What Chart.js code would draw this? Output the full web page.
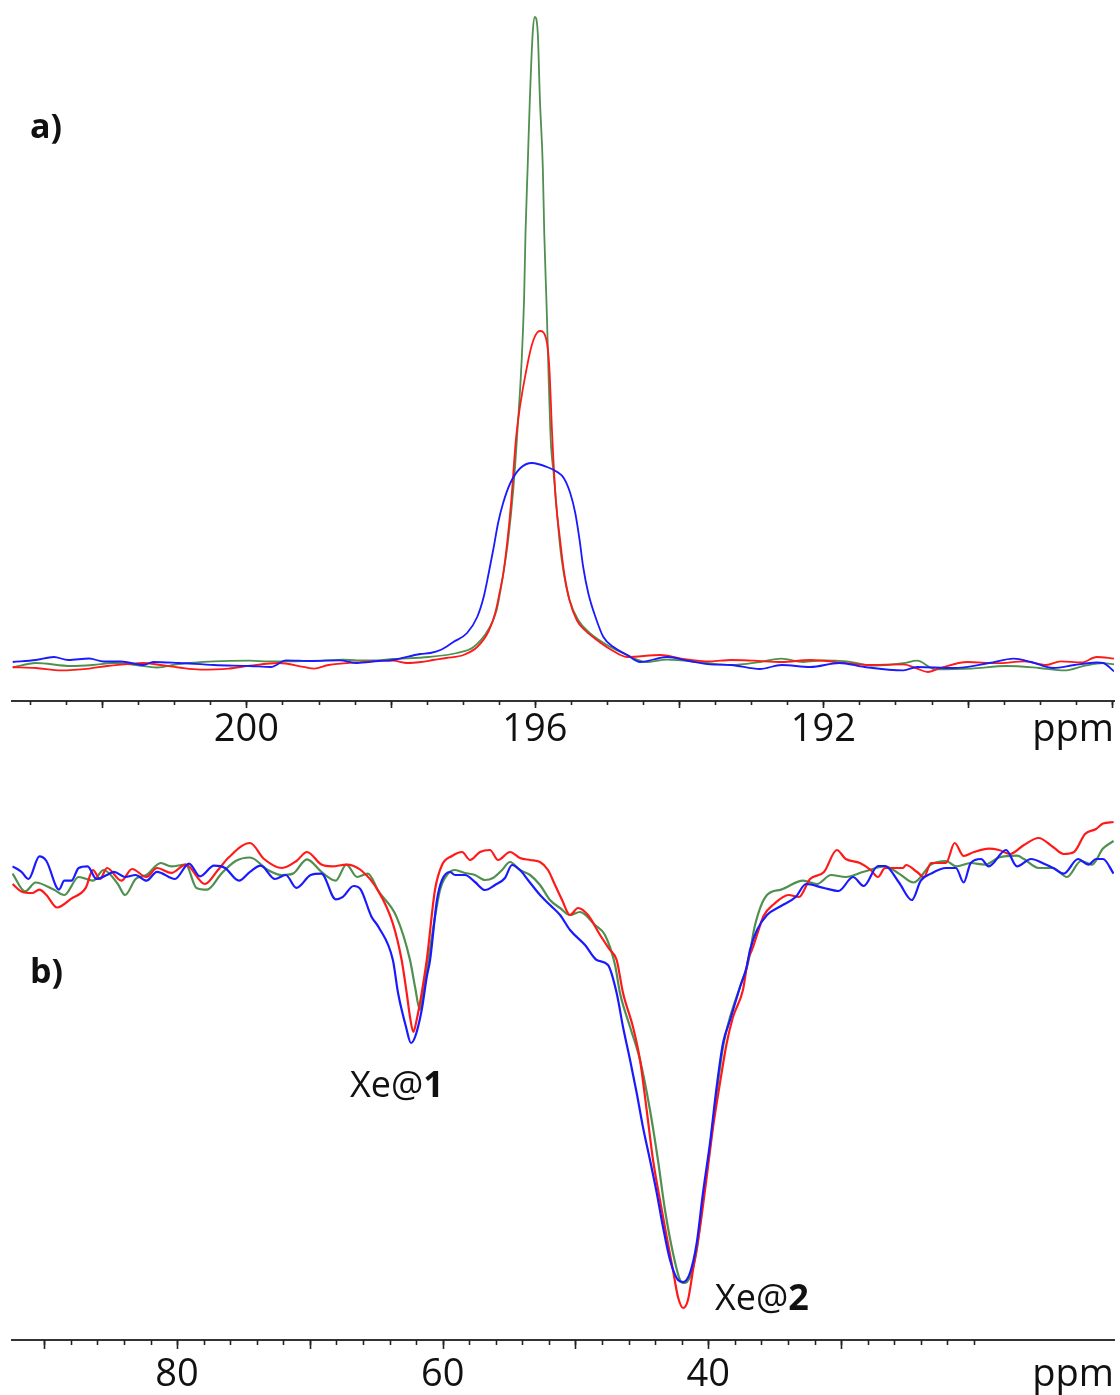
<!DOCTYPE html>
<html>
<head>
<meta charset="utf-8">
<script src="https://cdn.jsdelivr.net/npm/chart.js@4.4.1/dist/chart.umd.min.js"></script>
<style>
  html, body { margin: 0; padding: 0; background: #fff; }
  canvas { display: block; }
</style>
</head>
<body>
<canvas id="specA" width="1120" height="760"></canvas>
<canvas id="specB" width="1120" height="635"></canvas>
<script>
// --- 129Xe NMR overlay: a) gas region, b) cage region ---
// each series: [ppm, intensity (a.u.)]

// a) 203 .. 188 ppm
const aBlue = [[203.24,3],[202.92,5],[202.67,8],[202.47,5],[202.18,6.5],[201.98,3.5],[201.74,3.5],[201.43,0],[201.29,3],[200.94,2],[200.45,0],[199.95,-1],[199.66,-2],[199.45,4.6],[199.10,4],[198.71,4.6],[198.47,2],[198.17,4],[197.97,5],[197.59,11],[197.45,12],[197.31,15],[197.13,23],[196.94,32],[196.80,48],[196.71,68],[196.64,92],[196.57,118],[196.51,142],[196.44,162],[196.34,182],[196.20,197],[196.04,202],[195.83,198],[195.69,193],[195.60,187],[195.51,172],[195.44,152],[195.38,125],[195.33,98],[195.26,72],[195.16,48],[195.05,28],[194.91,18],[194.72,10],[194.54,3],[194.17,8],[193.86,4],[193.57,0.7],[193.28,0],[192.88,-4],[192.58,0],[192.18,-2],[191.78,2],[191.43,-2],[190.89,-5.4],[190.70,-2],[190.20,-3],[189.70,2],[189.36,6.4],[189.12,3],[188.81,-3],[188.52,0],[188.21,2.5],[188.12,2],[187.97,-6.4]];
const aRed = [[203.24,-2],[202.92,-3],[202.57,-5.4],[202.18,-3.6],[201.93,-1],[201.63,1],[201.43,2],[201.19,0],[200.94,-2.5],[200.64,-4.6],[200.25,-3.6],[199.95,-0.7],[199.55,2],[199.21,-1.8],[199.06,-3.6],[198.86,0],[198.47,2.5],[197.97,4.3],[197.77,2],[197.58,3],[197.41,5],[197.23,7],[196.99,10],[196.80,18],[196.64,34],[196.55,52],[196.49,72],[196.43,95],[196.33,162],[196.26,228],[196.11,298],[196.02,325],[195.93,334],[195.84,325],[195.80,298],[195.76,230],[195.71,165],[195.65,125],[195.60,95],[195.52,65],[195.42,45],[195.31,35],[195.16,26],[194.96,16],[194.72,8],[194.26,10],[193.97,6.4],[193.57,3.6],[193.28,5],[192.97,4.3],[192.58,3],[192.18,5],[191.68,1.8],[191.39,0],[190.89,0.7],[190.70,-3.6],[190.55,-7],[190.40,-3.6],[190.00,3],[189.60,1.8],[189.21,3.6],[188.91,0],[188.71,3.6],[188.42,2.5],[188.21,8],[187.97,6.4]];
const aGreen = [[203.24,-2.5],[202.92,2],[202.43,-1],[202.13,0],[201.84,2],[201.53,0],[201.24,-2.5],[200.94,1],[200.45,3.6],[199.95,4.3],[199.70,3.6],[199.45,3.6],[198.96,4.3],[198.66,5.4],[198.47,4.6],[198.22,4.6],[197.97,6],[197.47,8],[197.08,12],[196.85,18],[196.64,36],[196.53,55],[196.43,95],[196.37,125],[196.30,175],[196.25,225],[196.15,365],[196.13,432],[196.10,498],[196.07,565],[196.03,632],[196.00,648],[195.96,632],[195.93,565],[195.89,498],[195.87,432],[195.84,365],[195.78,225],[195.74,192],[195.70,158],[195.65,118],[195.60,92],[195.52,65],[195.40,45],[195.24,32],[195.00,20],[194.72,10],[194.46,3],[194.17,5.4],[193.67,2.5],[193.28,0],[192.88,3],[192.58,6.4],[192.28,3],[191.99,4.6],[191.68,3.6],[191.29,-0.7],[190.89,1.8],[190.70,4.3],[190.45,-4.3],[189.95,-3.6],[189.46,-1],[189.01,-3],[188.66,-5.4],[188.37,-0.7],[188.12,1.8],[187.97,0.7]];

// b) 92 .. 9 ppm
const bBlue = [[92.39,-1.4],[91.72,-6.8],[91.18,-14],[90.37,8.6],[89.84,4],[88.89,-24.6],[88.49,-15.7],[87.96,-15.7],[87.41,-3],[86.74,-1.4],[86.07,-14],[85.28,-10],[84.75,-6.8],[83.92,-12],[83.12,-10],[82.31,-15.7],[81.51,-6.8],[80.16,-14],[79.10,1.4],[78.27,-11.4],[77.22,-0.7],[76.39,-3],[75.34,-15.7],[74.51,-6.8],[73.70,-0.7],[72.63,-14],[71.82,-10],[71.01,-22.9],[69.94,-10],[69.13,-8.6],[68.06,-34.3],[67.51,-31.8],[66.71,-21],[66.17,-24.6],[65.37,-51.4],[64.83,-62],[63.75,-95],[63.36,-128],[62.76,-162],[62.39,-178],[62.08,-172],[61.58,-145],[61.20,-112],[60.95,-95],[60.43,-35],[60.05,-15],[59.45,-7],[59.07,-10],[58.32,-10],[57.57,-17],[56.81,-25],[56.06,-20],[55.31,-13],[54.78,0],[54.18,-5],[53.58,-15],[52.67,-30],[51.92,-40],[51.16,-50],[50.41,-65],[49.28,-80],[48.40,-95],[47.55,-100],[46.90,-128],[46.42,-162],[45.89,-195],[45.39,-228],[44.92,-262],[44.39,-295],[43.88,-328],[43.41,-362],[42.88,-395],[42.28,-415],[41.90,-417],[41.38,-408],[40.87,-378],[40.40,-328],[39.87,-278],[39.37,-222],[38.89,-178],[38.36,-155],[37.61,-122],[37.11,-102],[36.86,-85],[36.33,-65],[35.58,-50],[34.52,-41],[33.42,-32],[32.64,-19],[31.29,-23],[30.19,-26],[29.10,-12],[28.30,-21],[27.22,-1],[26.69,-1],[25.64,-17.5],[24.67,-35],[24.00,-15.7],[23.23,-8.6],[22.10,-3],[21.35,-3],[20.77,-17.5],[20.24,2],[19.46,6],[18.89,-1.4],[17.58,15],[16.75,-1.4],[15.70,6],[14.59,0.4],[14.04,-3],[13.24,-8.6],[12.16,6],[11.36,0.4],[10.80,6],[10.28,6],[9.48,-8.6]];
const bRed = [[92.39,-19],[91.72,-26.4],[90.92,-28],[90.37,-24.6],[89.84,-30],[89.04,-42.5],[87.96,-33.6],[86.88,-22.9],[86.34,-5],[85.80,-14],[85.28,-3],[84.19,-15.7],[83.39,-4],[82.31,-12],[81.51,-3],[80.43,-7.9],[79.35,0.4],[77.90,-19],[76.92,-5],[76.12,7.5],[74.51,22],[73.45,6],[72.10,-3],[71.01,4],[70.22,13],[69.13,0.4],[68.33,-1.4],[67.25,0.4],[66.17,-5],[64.83,-26.4],[63.75,-58.6],[63.09,-95],[62.71,-128],[62.46,-152],[62.21,-167],[61.96,-155],[61.58,-128],[61.20,-95],[60.58,-25],[60.05,0],[59.30,9],[58.54,13],[57.94,5],[57.19,13],[56.44,15],[55.83,5],[54.93,13],[54.18,7],[53.42,5],[52.67,3],[52.07,-5],[51.54,-20],[51.01,-35],[50.41,-50],[49.81,-43],[49.06,-50],[48.15,-70],[47.40,-85],[46.90,-95],[46.42,-128],[45.67,-162],[45.14,-195],[44.64,-245],[44.16,-295],[43.64,-335],[43.13,-372],[42.66,-405],[42.28,-432],[41.90,-443],[41.53,-435],[41.15,-405],[40.62,-362],[40.12,-312],[39.64,-262],[39.12,-218],[38.61,-178],[38.14,-152],[37.39,-125],[37.01,-95],[36.71,-85],[36.26,-67],[35.84,-51],[35.05,-39],[33.95,-30],[33.17,-32],[32.34,-14],[31.29,-7],[30.32,15],[29.65,6],[28.58,2],[27.77,-5],[27.22,-12],[26.69,-3],[25.34,-3],[25.11,0],[24.28,-7],[23.76,-12],[23.23,2],[22.10,2],[21.45,22],[20.77,9],[19.99,13],[18.89,16.4],[18.11,15],[17.28,11],[16.23,20],[15.13,27],[14.04,18],[13.24,11],[12.46,13],[11.63,31],[10.80,36],[10.28,41.4],[9.48,43]];
const bGreen = [[92.39,-8.6],[91.45,-26.4],[90.65,-17.5],[89.30,-24.6],[88.49,-30],[87.41,-12],[86.34,-15.7],[85.53,-5],[84.46,-19],[83.92,-30],[83.12,-14],[82.31,-10],[81.23,2],[80.43,-1.4],[79.35,0.4],[78.54,-22.9],[77.75,-24.6],[76.66,-8.6],[75.59,4],[74.51,7.5],[73.16,-5],[72.10,-10],[71.28,-8.6],[70.22,5.7],[69.13,-6.8],[68.06,-15.7],[67.25,0.4],[66.45,-12],[65.63,-8.6],[64.83,-26.4],[63.49,-51.4],[62.46,-95],[62.08,-122],[61.71,-145],[61.46,-128],[61.08,-95],[60.20,-25],[59.68,-10],[59.07,-5],[58.32,-8],[57.57,-10],[56.81,-15],[56.21,-13],[55.53,-5],[54.93,3],[54.18,-5],[53.42,-10],[52.67,-20],[51.92,-35],[51.16,-43],[50.41,-50],[49.66,-47],[48.53,-60],[47.78,-70],[47.02,-100],[46.65,-128],[45.89,-162],[45.14,-195],[44.39,-245],[43.79,-295],[43.26,-345],[42.66,-388],[42.13,-415],[41.83,-418],[41.38,-412],[40.87,-385],[40.40,-335],[39.87,-282],[39.37,-228],[38.89,-182],[38.36,-152],[37.61,-122],[37.01,-98],[36.48,-60],[35.58,-30],[34.52,-24.6],[32.87,-15.7],[31.81,-19],[30.76,-10],[29.65,-12],[28.30,-6.8],[26.69,-1.4],[25.64,-8.6],[24.54,-17.5],[23.23,0.4],[22.10,4],[21.35,-1.4],[20.24,2],[19.16,0.4],[18.11,7.5],[16.75,9.3],[16.23,6],[15.13,-3],[14.04,-3],[12.99,-12],[11.93,4],[11.11,0.4],[10.28,16.4],[9.48,24]];

// axis labels / ticks
const aTickLabels = [200, 196, 192];
const aMajorTicks = [202, 200, 198, 196, 194, 192, 190, 188];
const bTickLabels = [80, 60, 40];
const bMajorTicks = [90, 80, 70, 60, 50, 40, 30];
const aMinorTicks = [];
for (let v = 203; v >= 188; v -= 0.5) aMinorTicks.push(v);
const bMinorTicks = [];
for (let v = 90; v >= 20; v -= 2) bMinorTicks.push(v);

const FONT = "'Open Sans', 'Noto Sans', sans-serif";
const BLUE = '#1a1aff', RED = '#ff1a1a', GREEN = '#4f8f4f';
const get = (id) => document.getElementById(id);

function series(pts, color, w) {
    return {
        data: pts.map(([x, y]) => ({ x, y })),
        borderColor: color,
        borderWidth: w,
        pointRadius: 0,
        fill: false,
        cubicInterpolationMode: 'monotone'
    };
}

// tick marks + "ppm" + panel texts
function decor(majors, minors, majLen, minLen, labelPad, texts) {
    return {
        id: 'decor',
        afterDraw(chart) {
            const ctx = chart.ctx, sx = chart.scales.x, y0 = sx.top;
            ctx.save();
            ctx.strokeStyle = '#222';
            ctx.lineWidth = 1.6;
            const mark = (v, len) => {
                const px = Math.round(sx.getPixelForValue(v)) + 0.5;
                ctx.beginPath(); ctx.moveTo(px, y0); ctx.lineTo(px, y0 + len); ctx.stroke();
            };
            minors.forEach(v => mark(v, minLen));
            majors.forEach(v => mark(v, majLen));

            ctx.fillStyle = '#111';
            ctx.font = `38px ${FONT}`;
            ctx.textAlign = 'right';
            ctx.textBaseline = 'middle';
            ctx.fillText('ppm', sx.right, y0 + labelPad + 38 * 1.2 / 2);

            ctx.textAlign = 'left';
            ctx.textBaseline = 'alphabetic';
            texts.forEach(t => {
                let x = t.x;
                t.parts.forEach(([s, bold]) => {
                    ctx.font = `${bold ? 'bold ' : ''}${t.size}px ${FONT}`;
                    ctx.fillText(s, x, t.y);
                    x += ctx.measureText(s).width;
                });
            });
            ctx.restore();
        }
    };
}

function makeChart(id, sets, xmin, xmax, ymin, ymax, labels, pad, axisH, labelPad, plug) {
    return new Chart(get(id), {
        type: 'line',
        data: { datasets: sets },
        options: {
            responsive: false,
            animation: false,
            devicePixelRatio: 1,
            layout: { padding: pad },
            plugins: { legend: { display: false }, tooltip: { enabled: false } },
            scales: {
                x: {
                    type: 'linear', reverse: true, min: xmin, max: xmax,
                    grid: { display: false, drawTicks: false, tickLength: 0 },
                    border: { display: true, color: '#333', width: 2 },
                    afterBuildTicks: (s) => { s.ticks = labels.map(v => ({ value: v })); },
                    afterFit: (s) => { s.height = axisH; },
                    ticks: {
                        autoSkip: false, maxRotation: 0, padding: labelPad, color: '#111',
                        font: { family: FONT, size: 38 },
                        callback: (v) => String(v)
                    }
                },
                y: { display: false, min: ymin, max: ymax }
            }
        },
        plugins: [plug]
    });
}

makeChart('specA',
    [series(aBlue, BLUE, 1.8), series(aRed, RED, 1.8), series(aGreen, GREEN, 1.8)],
    187.97, 203.25, -36, 655, aTickLabels,
    { left: 12, right: 6, top: 10, bottom: 0 }, 59, 6,
    decor(aMajorTicks, aMinorTicks, 7, 4, 6, [
        { x: 30, y: 138, size: 34, parts: [['a)', true]] }
    ]));

makeChart('specB',
    [series(bBlue, BLUE, 2.2), series(bRed, RED, 2.2), series(bGreen, GREEN, 2.2)],
    9.45, 92.43, -475, 65, bTickLabels,
    { left: 12, right: 6, top: 40, bottom: 0 }, 55, 12,
    decor(bMajorTicks, bMinorTicks, 9, 5, 12, [
        { x: 30, y: 223, size: 34, parts: [['b)', true]] },
        { x: 350, y: 337, size: 36, parts: [['Xe@', false], ['1', true]] },
        { x: 715, y: 550, size: 36, parts: [['Xe@', false], ['2', true]] }
    ]));
</script>
</body>
</html>
